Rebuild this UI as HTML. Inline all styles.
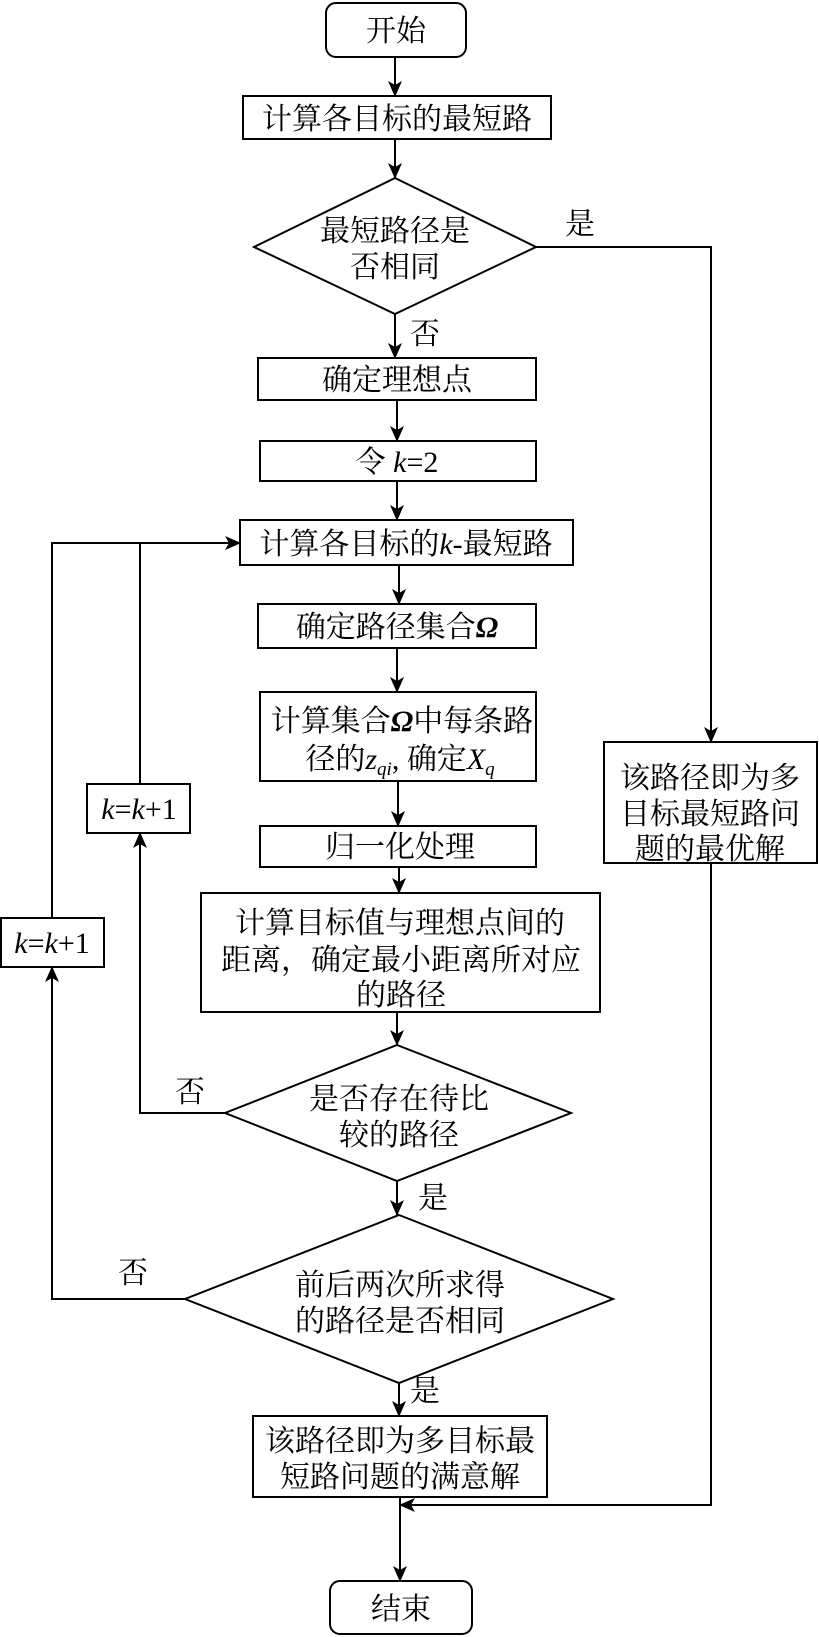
<!DOCTYPE html>
<html><head><meta charset="utf-8"><style>
html,body{margin:0;padding:0;background:#fff}
svg{display:block}
text{font-family:"Liberation Serif","Noto Serif CJK SC","Noto Sans CJK SC",serif;font-size:30px;fill:#000;text-anchor:middle}
.i{font-style:italic}
</style></head><body>
<svg width="819" height="1637" viewBox="0 0 819 1637" xmlns="http://www.w3.org/2000/svg">
<defs><marker id="a" markerWidth="16" markerHeight="16" refX="15" refY="8" orient="auto" markerUnits="userSpaceOnUse">
<path d="M0,1 L16,8 L0,15 L4,8 Z" fill="#000"/></marker></defs>
<g fill="none" stroke="#000" stroke-width="2">
<rect x="326" y="3" width="140" height="54" rx="10"/>
<rect x="243" y="96" width="308" height="43"/>
<polygon points="395,178 536,247 395,314 254,247"/>
<rect x="258" y="358" width="278" height="42"/>
<rect x="260" y="441" width="276" height="40"/>
<rect x="240" y="520" width="333" height="45"/>
<rect x="258" y="604" width="278" height="44"/>
<rect x="260" y="692" width="276" height="89"/>
<rect x="604" y="742" width="213" height="121"/>
<rect x="87" y="784" width="103" height="49"/>
<rect x="260" y="826" width="276" height="41"/>
<rect x="201" y="893" width="399" height="119"/>
<rect x="1" y="918" width="103" height="49"/>
<polygon points="397,1045 571,1113 397,1181 225,1113"/>
<polygon points="399,1215 613,1299 399,1383 185,1299"/>
<rect x="253" y="1416" width="294" height="81"/>
<rect x="330" y="1581" width="142" height="53" rx="10"/>
<line x1="395" y1="57" x2="395" y2="96" marker-end="url(#a)"/>
<line x1="395" y1="139" x2="395" y2="178" marker-end="url(#a)"/>
<line x1="395" y1="314" x2="395" y2="358" marker-end="url(#a)"/>
<line x1="397" y1="400" x2="397" y2="441" marker-end="url(#a)"/>
<line x1="397" y1="481" x2="397" y2="520" marker-end="url(#a)"/>
<line x1="399" y1="565" x2="399" y2="604" marker-end="url(#a)"/>
<line x1="397" y1="648" x2="397" y2="692" marker-end="url(#a)"/>
<line x1="398" y1="781" x2="398" y2="826" marker-end="url(#a)"/>
<line x1="399" y1="867" x2="399" y2="893" marker-end="url(#a)"/>
<line x1="397" y1="1012" x2="397" y2="1045" marker-end="url(#a)"/>
<line x1="397" y1="1181" x2="397" y2="1215" marker-end="url(#a)"/>
<line x1="399" y1="1383" x2="399" y2="1416" marker-end="url(#a)"/>
<line x1="400" y1="1497" x2="400" y2="1581" marker-end="url(#a)"/>
<polyline points="536,247 711,247 711,742" marker-end="url(#a)"/>
<polyline points="711,863 711,1505 400,1505" marker-end="url(#a)"/>
<polyline points="225,1113 140,1113 140,833" marker-end="url(#a)"/>
<polyline points="140,784 140,543"/>
<polyline points="185,1299 52,1299 52,967" marker-end="url(#a)"/>
<polyline points="52,918 52,543 240,543" marker-end="url(#a)"/>
</g>
<text x="396" y="41">开始</text>
<text x="397" y="129">计算各目标的最短路</text>
<text x="395" y="241">最短路径是</text>
<text x="395" y="277">否相同</text>
<text x="580" y="234">是</text>
<text x="425" y="344">否</text>
<text x="397" y="390">确定理想点</text>
<text x="397" y="472"><tspan>令</tspan><tspan class="i"> k</tspan><tspan>=2</tspan></text>
<text x="406" y="554">计算各目标的<tspan class="i">k</tspan>-最短路</text>
<text x="397" y="637">确定路径集合<tspan class="i" font-weight="bold">Ω</tspan></text>
<text x="402" y="731">计算集合<tspan class="i" font-weight="bold">Ω</tspan>中每条路</text>
<text x="400" y="769">径的<tspan class="i">z</tspan><tspan class="i" font-size="19" dy="6">qi</tspan><tspan dy="-6">, 确定</tspan><tspan class="i">X</tspan><tspan class="i" font-size="19" dy="6">q</tspan></text>
<text x="710" y="788">该路径即为多</text>
<text x="710" y="824">目标最短路问</text>
<text x="710" y="859">题的最优解</text>
<text x="139" y="819" class="i">k<tspan font-style="normal">=</tspan>k<tspan font-style="normal">+1</tspan></text>
<text x="400" y="857">归一化处理</text>
<text x="400" y="933">计算目标值与理想点间的</text>
<text x="401" y="970">距离，确定最小距离所对应</text>
<text x="401" y="1005">的路径</text>
<text x="52" y="953" class="i">k<tspan font-style="normal">=</tspan>k<tspan font-style="normal">+1</tspan></text>
<text x="190" y="1102">否</text>
<text x="399" y="1109">是否存在待比</text>
<text x="399" y="1145">较的路径</text>
<text x="433" y="1208">是</text>
<text x="133" y="1283">否</text>
<text x="400" y="1295">前后两次所求得</text>
<text x="400" y="1331">的路径是否相同</text>
<text x="425" y="1401">是</text>
<text x="400" y="1451">该路径即为多目标最</text>
<text x="400" y="1487">短路问题的满意解</text>
<text x="401" y="1619">结束</text>
</svg>
</body></html>
